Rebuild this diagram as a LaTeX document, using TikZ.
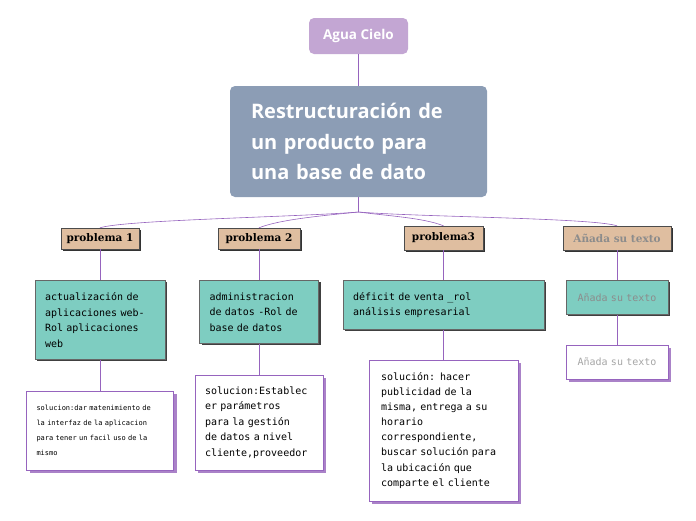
\documentclass[tikz,border=0pt]{standalone}
\usepackage{fontspec}
\usepackage{tikz}
\usetikzlibrary{positioning,shadows,calc}
\setmonofont{DejaVu Sans Mono}
\newfontfamily\titlefont{Open Sans}
\newfontfamily\etiqfont{DejaVu Serif}

\definecolor{lila}{RGB}{195,166,211}
\definecolor{grisazul}{RGB}{140,157,181}
\definecolor{tostado}{RGB}{223,190,160}
\definecolor{turquesa}{RGB}{126,205,193}
\definecolor{linea}{RGB}{150,100,190}
\definecolor{sombra}{RGB}{170,130,200}

\tikzset{
	raiz/.style={rectangle,rounded corners=5pt,fill=lila,text=white,
		font=\titlefont\bfseries\fontsize{13.5}{16}\selectfont,minimum width=99pt,minimum height=36pt},
	tema/.style={rectangle,rounded corners=5pt,fill=grisazul,text=white,align=left,
		font=\titlefont\bfseries\fontsize{20}{30.5}\selectfont,text width=215pt,
		minimum width=257pt,minimum height=111pt,inner xsep=21pt},
	problema/.style={rectangle,draw=black!70,fill=tostado,font=\etiqfont\bfseries\fontsize{10.5}{13}\selectfont,
		minimum height=21pt,inner xsep=3pt,drop shadow={shadow xshift=2pt,shadow yshift=-2pt,opacity=1,fill=black!80}},
	dato/.style={rectangle,draw=black!60,fill=turquesa,align=left,
		font=\ttfamily\fontsize{10}{15.5}\selectfont,inner xsep=10pt,
		drop shadow={shadow xshift=2pt,shadow yshift=-2pt,opacity=1,fill=black!75}},
	solucion/.style={rectangle,draw=linea,fill=white,align=left,
		font=\ttfamily\fontsize{10}{15.5}\selectfont,inner xsep=10pt,
		drop shadow={shadow xshift=3pt,shadow yshift=-3pt,opacity=1,fill=sombra}},
	rama/.style={draw=linea,semithick}
}

\begin{document}
\begin{tikzpicture}[x=1pt,y=-1pt]
	\useasboundingbox (0,0) rectangle (696,520);
	
	\node[raiz] (agua) at (358.5,36) {Agua Cielo};
	\node[tema] (tema) at (358.5,141.5) {Restructuración de\\un producto para\\una base de dato};
	
	\node[problema,minimum width=78pt] (p1) at (100,238.5) {problema 1};
	\node[problema,minimum width=82pt] (p2) at (259,238.5) {problema 2};
	\node[problema,minimum width=79pt,minimum height=24pt] (p3) at (443.5,238) {problema3};
	\node[problema,minimum width=108pt,minimum height=24pt,text=black!45] (p4) at (617,238) {Añada su texto};
	
	\node[dato,text width=110pt,minimum height=79pt] (d1) [below=31pt of p1] {actualización de\\aplicaciones web-\\Rol aplicaciones\\web};
	\node[dato,text width=99pt,minimum height=63pt] (d2) [below=31pt of p2] {administracion\\de datos -Rol de\\base de datos};
	\node[dato,text width=181pt,minimum height=49pt] (d3) [below=30pt of p3] {déficit de venta \_rol\\análisis empresarial};
	\node[dato,text width=82pt,minimum height=34pt,text=black!45,align=center] (d4) [below=30pt of p4] {Añada su texto};
	
	\node[solucion,text width=127pt,minimum height=79pt,font=\ttfamily\fontsize{7}{15}\selectfont] (s1) [below=31pt of d1] {solucion:dar matenimiento de\\la interfaz de la aplicacion\\para tener un facil uso de la\\mismo};
	\node[solucion,text width=108pt,minimum height=95pt] (s2) [below=31pt of d2] {solucion:Establec\\er parámetros\\para la gestión\\de datos a nivel\\cliente,proveedor};
	\node[solucion,text width=125pt,minimum height=141pt,inner xsep=12pt,font=\ttfamily\fontsize{10}{15.1}\selectfont] (s3) [below=30pt of d3] {solución: hacer\\publicidad de la\\misma, entrega a su\\horario\\correspondiente,\\buscar solución para\\la ubicación que\\comparte el cliente};
	\node[solucion,text width=82pt,minimum height=34pt,text=black!35,align=center] (s4) [below=30pt of d4] {Añada su texto};
	
	% ramas
	\coordinate (centro) at (358.5,212);
	\draw[rama] (agua) -- (tema);
	\draw[rama] (tema.south) -- (centro);
	\draw[rama] (centro) .. controls ($(centro)+(-60,5)$) and ($(p1.north)+(25,-8)$) .. (p1.north);
	\draw[rama] (centro) .. controls ($(centro)+(-40,4)$) and ($(p2.north)+(20,-8)$) .. (p2.north);
	\draw[rama] (centro) .. controls ($(centro)+(30,4)$) and ($(p3.north)+(-20,-8)$) .. (p3.north);
	\draw[rama] (centro) .. controls ($(centro)+(60,5)$) and ($(p4.north)+(-25,-8)$) .. (p4.north);
	\foreach \a/\b in {p1/d1,p2/d2,p3/d3,p4/d4,d1/s1,d2/s2,d3/s3,d4/s4}
		\draw[rama] (\a) -- (\b);
\end{tikzpicture}
\end{document}
